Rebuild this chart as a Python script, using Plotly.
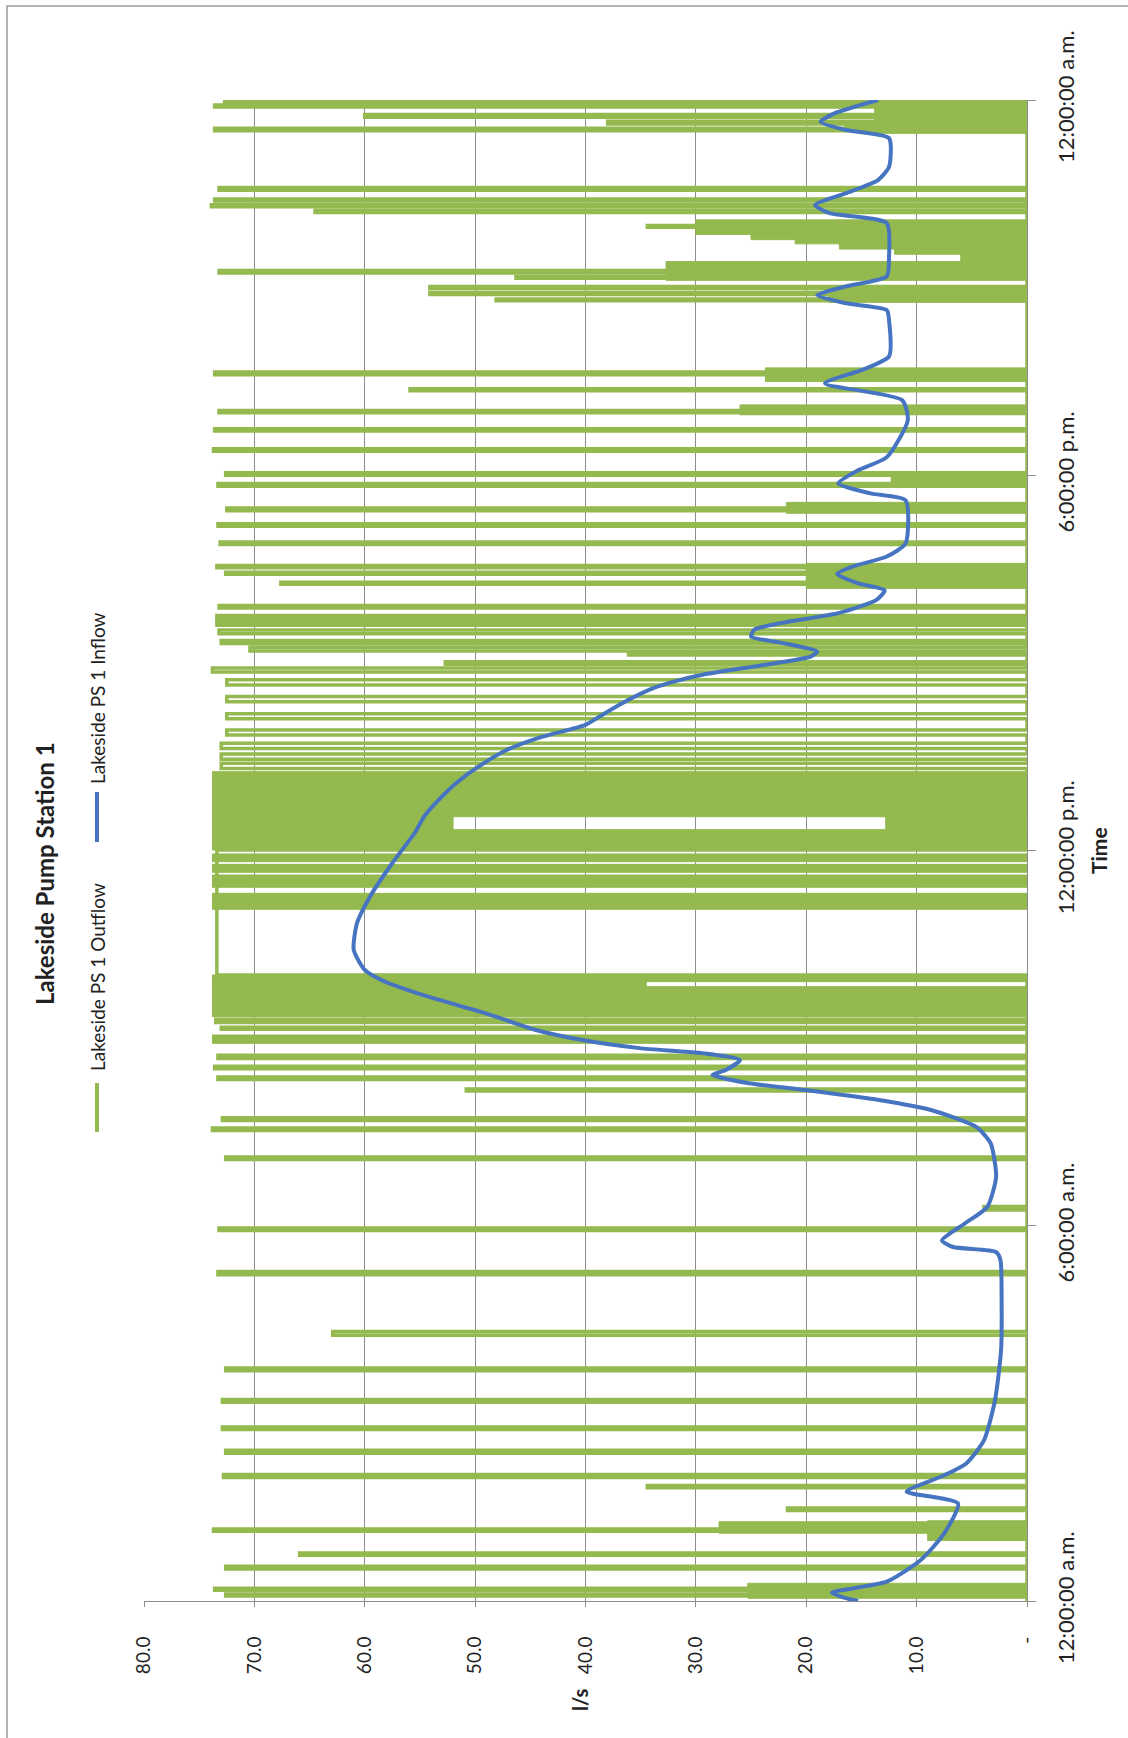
import plotly.graph_objects as go

# ---------------- data (time in minutes after midnight, flow in l/s) ----------------
# Outflow: pump-on pulses
pulse_start = [4.8, 10.2, 30.8, 44.0, 67.0, 86.8, 108.7, 118.4, 141.7, 164.5, 190.7, 221.0, 255.0,
               313.0, 355.4, 375.0, 423.5, 451.3, 461.0, 489.3, 500.3, 510.5, 520.5, 548.5, 555.0,
               600.6, 798.6, 807.5, 817.9, 830.7, 846.3, 862.7, 878.7, 891.2, 898.8, 907.5, 911.3,
               918.5, 928.0, 936.0, 942.5, 952.6, 975.4, 985.0, 991.3, 1013.5, 1031.0, 1046.0,
               1069.5, 1080.0, 1103.0, 1122.5, 1140.0, 1161.0, 1176.5, 1247.5, 1253.5, 1259.5,
               1269.0, 1274.0, 1318.0, 1332.0, 1337.5, 1343.0, 1353.5, 1410.5, 1417.0, 1423.5,
               1433.3, 1438.3]
pulse_end = [6.8, 12.2, 33.3, 46.0, 69.0, 89.3, 110.7, 121.4, 144.7, 167.0, 193.2, 223.5, 258.5,
             316.0, 357.9, 378.5, 426.0, 453.8, 463.5, 491.3, 502.8, 513.0, 523.5, 550.5, 558.0,
             720.5, 803.6, 812.5, 822.9, 835.7, 851.3, 867.7, 883.7, 895.2, 901.0, 909.0, 915.0,
             921.5, 931.5, 939.5, 945.5, 955.0, 977.4, 987.0, 993.3, 1016.0, 1033.5, 1048.5,
             1072.0, 1082.5, 1105.5, 1124.5, 1142.0, 1163.0, 1179.0, 1249.0, 1255.5, 1261.0,
             1270.5, 1276.5, 1319.5, 1334.0, 1339.5, 1345.0, 1356.0, 1413.0, 1419.5, 1426.0,
             1435.3, 1440.0]
pulse_level = [72.6, 73.6, 72.6, 65.9, 73.7, 21.7, 34.4, 72.8, 72.6, 72.9, 72.9, 72.6, 62.9,
               73.3, 73.2, 3.9, 72.6, 73.8, 72.9, 50.8, 73.3, 73.6, 73.3, 73.0, 73.5,
               73.4, 73.0, 73.0, 73.0, 72.5, 72.5, 72.5, 72.5, 73.8, 52.7, 36.1, 70.4,
               73.0, 73.2, 73.4, 73.4, 73.2, 67.6, 72.6, 73.4, 73.1, 73.3, 72.5,
               73.3, 72.6, 73.7, 73.6, 73.2, 55.9, 73.6, 48.1, 54.1, 54.1,
               46.3, 73.2, 34.4, 64.5, 73.9, 73.6, 73.2, 73.6, 38.0, 60.0,
               73.6, 72.7]

# Outflow: periods of rapid cycling (solid green bands)
band_start = [2.6, 58.0, 65.0, 535.0, 560.6, 589.4, 594.2, 663.6, 684.7, 699.1, 709.3, 720.5,
              740.0, 740.0, 752.4, 971.5, 1043.5, 1072.0, 1138.0, 1170.0, 1246.0, 1267.0,
              1285.0, 1292.0, 1297.0, 1302.0, 1306.0, 1311.0, 1408.0, 1410.0]
band_end = [17.0, 77.0, 76.0, 543.0, 589.4, 594.2, 600.6, 678.9, 696.5, 706.7, 716.7, 740.0,
            752.4, 752.4, 795.6, 995.5, 1054.0, 1080.0, 1147.5, 1183.0, 1262.0, 1285.0,
            1292.0, 1297.0, 1302.0, 1306.0, 1311.0, 1325.0, 1440.0, 1420.0]
band_low = [0, 0, 0, 0, 0, 34.5, 0, 0, 0, 0, 0, 0,
            0, 52.0, 0, 0, 0, 0, 0, 0, 0, 0,
            0, 0, 0, 0, 0, 0, 0, 0]
band_high = [25.3, 9.0, 27.9, 73.8, 73.8, 73.8, 73.8, 73.8, 73.8, 73.8, 73.8, 73.8,
             12.8, 73.8, 73.8, 20.0, 21.8, 12.3, 26.0, 23.7, 18.0, 32.7,
             6.0, 12.0, 17.0, 21.0, 25.0, 30.0, 13.8, 16.5]

# Inflow curve
inflow_time = [0, 3, 8, 18.6, 39.6, 64.8, 93.6, 105, 120.6, 132, 154, 192.6, 240.6, 288.6, 327,
               334.8, 339.6, 346, 362.4, 378, 406.8, 439.2, 454.8, 471, 480.6, 490.2, 496.8, 504.6,
               509.4, 519, 525.6, 530.4, 538.2, 547.8, 564, 580.2, 595.8, 605.4, 624.6, 650.4,
               676.2, 708, 738, 753, 768.6, 784.8, 800.4, 816.6, 829.2, 840.6, 852, 864.6, 876,
               882, 888.6, 898.2, 906, 910.8, 919.2, 925.2, 931.8, 938.4, 948, 960.6, 969.6,
               976.2, 985.2, 992.4, 1002, 1014.6, 1056, 1062.6, 1072.2, 1084.8, 1097.4, 1132.8,
               1152, 1168.2, 1180.8, 1194, 1228.8, 1238.4, 1245, 1252.8, 1261.2, 1270.8, 1290,
               1321.8, 1331.4, 1339.2, 1350.6, 1363.2, 1375.8, 1403.4, 1411.2, 1419, 1427.4, 1440]
inflow_value = [15.3, 16.5, 17.7, 12.7, 9.6, 7.5, 6.25, 10.9, 7.5, 5.5, 3.9, 2.9, 2.35, 2.3, 2.4,
                2.8, 6.7, 7.7, 5.6, 3.6, 2.8, 3.3, 4.6, 8.7, 13.4, 20.1, 25.2, 28.5,
                27.3, 26.0, 29.4, 35.1, 40.3, 44.5, 49.1, 54.4, 58.5, 60.0, 61.0, 60.7,
                59.5, 57.5, 55.4, 54.6, 53.3, 51.7, 49.7, 47.1, 43.9, 40.0, 38.2, 36.1, 33.8,
                32.0, 29.4, 23.7, 19.6, 19.0, 22.2, 25.0, 24.7, 22.2, 17.0, 13.6, 12.9,
                15.3, 17.2, 15.8, 12.7, 11.0, 11.0, 14.2, 17.1, 15.3, 12.7, 10.8,
                11.3, 18.3, 15.0, 12.5, 12.5, 12.7, 16.4, 19.0, 16.4, 12.7, 12.5,
                12.7, 17.9, 19.2, 16.4, 13.5, 12.5, 12.5, 16.4, 18.7, 17.4, 13.5]

value_ticks = [0, 10, 20, 30, 40, 50, 60, 70, 80]
value_labels = ["-", "10.0", "20.0", "30.0", "40.0", "50.0", "60.0", "70.0", "80.0"]
time_ticks = [0, 360, 720, 1080, 1440]
time_labels = ["12:00:00 a.m.", "6:00:00 a.m.", "12:00:00 p.m.", "6:00:00 p.m.", "12:00:00 a.m."]

# ---------------- styling / layout ----------------
W, H = 1128, 1738
L, R, T, B = 144, 1027, 100, 1601
GREEN = "#93B94F"
BLUE = "#4674C1"
GRID = "#8C8C8C"
FONT = "Lato"


def px_x(px):
    return (px - L) / (R - L)


def px_y(py):
    return (B - py) / (B - T)


# build outflow step line from pulses
gx, gy = [0], [0]
for s, e, lv in sorted(zip(pulse_start, pulse_end, pulse_level)):
    gx += [0, lv, lv, 0]
    gy += [s, s, e, e]
gx.append(0)
gy.append(1440)

# build band polygons
bx, by = [], []
for s, e, lo, hi in zip(band_start, band_end, band_low, band_high):
    bx += [lo, hi, hi, lo, lo, None]
    by += [s, s, e, e, s, None]

fig = go.Figure()
fig.add_trace(go.Scatter(x=bx, y=by, mode="lines", fill="toself", fillcolor=GREEN,
                         line=dict(color=GREEN, width=1), hoverinfo="skip", showlegend=False))
fig.add_trace(go.Scatter(x=gx, y=gy, mode="lines", name="Lakeside PS 1 Outflow",
                         line=dict(color=GREEN, width=3.5), showlegend=False))
fig.add_trace(go.Scatter(x=inflow_value, y=inflow_time, mode="lines", name="Lakeside PS 1 Inflow",
                         line=dict(color=BLUE, width=4, shape="spline", smoothing=0.6),
                         showlegend=False))

fig.update_layout(
    width=W, height=H, autosize=False,
    margin=dict(l=L, r=W - R, t=T, b=H - B, pad=0),
    paper_bgcolor="white", plot_bgcolor="white",
    font=dict(family=FONT, color="#222222"),
    xaxis=dict(range=[80, 0], tickvals=value_ticks, ticktext=value_labels, tickangle=-90,
               showgrid=True, gridcolor=GRID, gridwidth=1, zeroline=False,
               showline=True, linecolor=GRID, linewidth=1, ticks="outside", ticklen=5,
               tickcolor=GRID, tickfont=dict(size=19, family=FONT, color="#222222"),
               ticklabelstandoff=22),
    yaxis=dict(range=[0, 1440], tickvals=time_ticks, ticktext=time_labels, tickangle=-90,
               side="right", showgrid=False, zeroline=False, showline=True, linecolor=GRID,
               linewidth=1, ticks="outside", ticklen=8, tickcolor=GRID,
               tickfont=dict(size=22, family=FONT, color="#222222"), ticklabelstandoff=12),
)

ann = [
    dict(text="<b>Lakeside Pump Station 1</b>", x=px_x(44), y=px_y(874), size=24),
    dict(text="Lakeside PS 1 Outflow", x=px_x(97), y=px_y(977), size=19),
    dict(text="Lakeside PS 1 Inflow", x=px_x(97), y=px_y(698), size=19),
    dict(text="<b>l/s</b>", x=px_x(580), y=px_y(1700), size=20),
    dict(text="<b>Time</b>", x=px_x(1098), y=px_y(851), size=21),
]
for a in ann:
    fig.add_annotation(text=a["text"], x=a["x"], y=a["y"], xref="paper", yref="paper",
                       showarrow=False, textangle=-90, xanchor="center", yanchor="middle",
                       font=dict(size=a["size"], family=FONT, color="#222222"))

# legend samples
fig.add_shape(type="line", xref="paper", yref="paper", x0=px_x(97), x1=px_x(97),
              y0=px_y(1083), y1=px_y(1132), line=dict(color=GREEN, width=4))
fig.add_shape(type="line", xref="paper", yref="paper", x0=px_x(97), x1=px_x(97),
              y0=px_y(792), y1=px_y(842), line=dict(color=BLUE, width=4))
# chart-area border
fig.add_shape(type="rect", xref="paper", yref="paper", x0=px_x(7), x1=px_x(1140),
              y0=px_y(1750), y1=px_y(6), line=dict(color="#9A9A9A", width=1.5))

fig.write_html("out.html", config={"displayModeBar": False},
               post_script="document.body.style.margin='0px';document.body.style.overflow='hidden';")
